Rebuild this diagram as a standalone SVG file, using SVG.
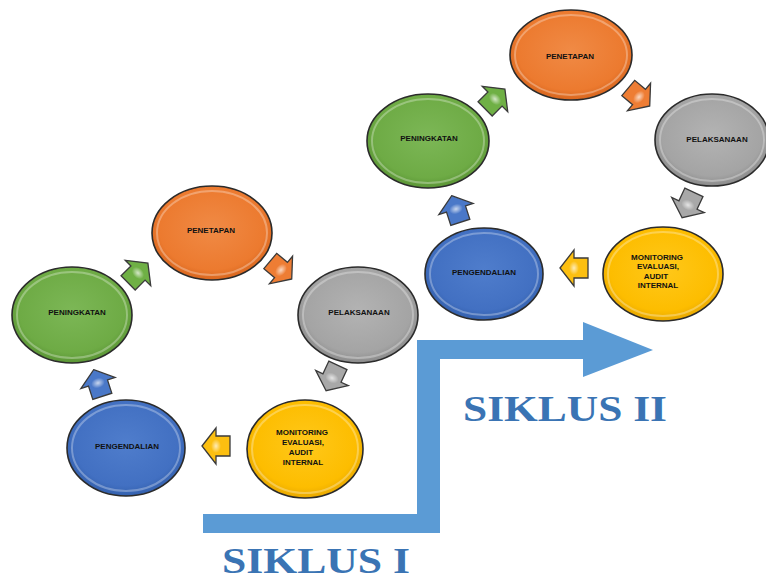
<svg xmlns="http://www.w3.org/2000/svg" width="766" height="582" viewBox="0 0 766 582">
<defs>
<radialGradient id="gOrange" cx="50%" cy="45%" r="55%"><stop offset="0" stop-color="#f08a45"/><stop offset="0.8" stop-color="#ec7a2f"/><stop offset="1" stop-color="#d8661e"/></radialGradient>
<radialGradient id="gGray" cx="50%" cy="45%" r="55%"><stop offset="0" stop-color="#b3b3b3"/><stop offset="0.8" stop-color="#a4a4a4"/><stop offset="1" stop-color="#8a8a8a"/></radialGradient>
<radialGradient id="gGreen" cx="50%" cy="45%" r="55%"><stop offset="0" stop-color="#7cb756"/><stop offset="0.8" stop-color="#6eab45"/><stop offset="1" stop-color="#5a9535"/></radialGradient>
<radialGradient id="gBlue" cx="50%" cy="45%" r="55%"><stop offset="0" stop-color="#4f7dcc"/><stop offset="0.8" stop-color="#4270c2"/><stop offset="1" stop-color="#3360ad"/></radialGradient>
<radialGradient id="gYellow" cx="50%" cy="45%" r="55%"><stop offset="0" stop-color="#ffc81a"/><stop offset="0.8" stop-color="#fdbd00"/><stop offset="1" stop-color="#e8a800"/></radialGradient>
<radialGradient id="aHi" cx="50%" cy="50%" r="50%"><stop offset="0" stop-color="#ffffff" stop-opacity="0.7"/><stop offset="1" stop-color="#ffffff" stop-opacity="0"/></radialGradient>
<path id="arr" d="M0,-14 L18,0 L10,0 L10,14 L-10,14 L-10,0 L-18,0 Z"/>
</defs>
<style>
.node ellipse.body{stroke:#2b2b2b;stroke-width:1.6}
.node ellipse.hi{fill:none;stroke:#ffffff;stroke-opacity:0.3;stroke-width:2}
.lbl{font-family:"Liberation Sans",Arial,sans-serif;font-weight:bold;font-size:8px;fill:#111;text-anchor:middle;dominant-baseline:middle}
.ar{stroke:#3a3a3a;stroke-width:1.3;stroke-linejoin:miter}
.siklus{font-family:"Liberation Serif","Times New Roman",serif;font-weight:bold;font-size:36px;fill:#3a74b4}
</style>
<rect width="766" height="582" fill="#ffffff"/>

<g id="step-arrow">
<path d="M203,514 L417,514 L417,340 L583,340 L583,322 L653,350 L583,377 L583,359 L440,359 L440,533 L203,533 Z" fill="#5b9bd5"/>
</g>

<g id="connectors">
<g transform="translate(138,273) rotate(45)"><use href="#arr" class="ar" fill="#6fb045"/><ellipse rx="7" ry="5" fill="url(#aHi)"/></g>
<g transform="translate(281,270) rotate(130)"><use href="#arr" class="ar" fill="#ee7d34"/><ellipse rx="7" ry="5" fill="url(#aHi)"/></g>
<g transform="translate(332,378) rotate(205)"><use href="#arr" class="ar" fill="#a8a8a8"/><ellipse rx="7" ry="5" fill="url(#aHi)"/></g>
<g transform="translate(216,446) rotate(-90)"><use href="#arr" class="ar" fill="#fcbf10"/><ellipse rx="7" ry="5" fill="url(#aHi)"/></g>
<g transform="translate(98,383) rotate(-18)"><use href="#arr" class="ar" fill="#4a78c8"/><ellipse rx="7" ry="5" fill="url(#aHi)"/></g>

<g transform="translate(495,99) rotate(45)"><use href="#arr" class="ar" fill="#6fb045"/><ellipse rx="7" ry="5" fill="url(#aHi)"/></g>
<g transform="translate(639,97) rotate(130)"><use href="#arr" class="ar" fill="#ee7d34"/><ellipse rx="7" ry="5" fill="url(#aHi)"/></g>
<g transform="translate(688,205) rotate(205)"><use href="#arr" class="ar" fill="#a8a8a8"/><ellipse rx="7" ry="5" fill="url(#aHi)"/></g>
<g transform="translate(574,268) rotate(-90)"><use href="#arr" class="ar" fill="#fcbf10"/><ellipse rx="7" ry="5" fill="url(#aHi)"/></g>
<g transform="translate(456,209) rotate(-18)"><use href="#arr" class="ar" fill="#4a78c8"/><ellipse rx="7" ry="5" fill="url(#aHi)"/></g>
</g>

<g id="c1-penetapan" class="node"><ellipse class="body" cx="212" cy="233" rx="60" ry="47" fill="url(#gOrange)"/><ellipse class="hi" cx="212" cy="233" rx="55" ry="42"/><text class="lbl" x="211" y="231">PENETAPAN</text></g>
<g id="c1-pelaksanaan" class="node"><ellipse class="body" cx="358" cy="315" rx="60" ry="48" fill="url(#gGray)"/><ellipse class="hi" cx="358" cy="315" rx="55" ry="43"/><text class="lbl" x="359" y="313">PELAKSANAAN</text></g>
<g id="c1-peningkatan" class="node"><ellipse class="body" cx="72" cy="315" rx="60" ry="48" fill="url(#gGreen)"/><ellipse class="hi" cx="72" cy="315" rx="55" ry="43"/><text class="lbl" x="77" y="313">PENINGKATAN</text></g>
<g id="c1-pengendalian" class="node"><ellipse class="body" cx="126" cy="448" rx="59" ry="48" fill="url(#gBlue)"/><ellipse class="hi" cx="126" cy="448" rx="54" ry="43"/><text class="lbl" x="127" y="447">PENGENDALIAN</text></g>
<g id="c1-monitoring" class="node"><ellipse class="body" cx="305" cy="449" rx="58" ry="49" fill="url(#gYellow)"/><ellipse class="hi" cx="305" cy="449" rx="53" ry="44"/>
<text class="lbl" x="302" y="433">MONITORING</text><text class="lbl" x="303" y="443">EVALUASI,</text><text class="lbl" x="301" y="453">AUDIT</text><text class="lbl" x="303" y="463">INTERNAL</text></g>

<g id="c2-penetapan" class="node"><ellipse class="body" cx="571" cy="55" rx="61" ry="45" fill="url(#gOrange)"/><ellipse class="hi" cx="571" cy="55" rx="56" ry="40"/><text class="lbl" x="570" y="57">PENETAPAN</text></g>
<g id="c2-pelaksanaan" class="node"><ellipse class="body" cx="712" cy="140" rx="57" ry="46" fill="url(#gGray)"/><ellipse class="hi" cx="712" cy="140" rx="52" ry="41"/><text class="lbl" x="717" y="140">PELAKSANAAN</text></g>
<g id="c2-peningkatan" class="node"><ellipse class="body" cx="428" cy="141" rx="61" ry="47" fill="url(#gGreen)"/><ellipse class="hi" cx="428" cy="141" rx="56" ry="42"/><text class="lbl" x="429" y="139">PENINGKATAN</text></g>
<g id="c2-pengendalian" class="node"><ellipse class="body" cx="484" cy="274" rx="59" ry="46" fill="url(#gBlue)"/><ellipse class="hi" cx="484" cy="274" rx="54" ry="41"/><text class="lbl" x="484" y="273">PENGENDALIAN</text></g>
<g id="c2-monitoring" class="node"><ellipse class="body" cx="663" cy="274" rx="60" ry="47" fill="url(#gYellow)"/><ellipse class="hi" cx="663" cy="274" rx="55" ry="42"/>
<text class="lbl" x="657" y="258">MONITORING</text><text class="lbl" x="658" y="267">EVALUASI,</text><text class="lbl" x="656" y="277">AUDIT</text><text class="lbl" x="658" y="286">INTERNAL</text></g>

<text class="siklus" x="463" y="421" textLength="204" lengthAdjust="spacingAndGlyphs">SIKLUS II</text>
<text class="siklus" x="222" y="573" textLength="188" lengthAdjust="spacingAndGlyphs">SIKLUS I</text>
</svg>
